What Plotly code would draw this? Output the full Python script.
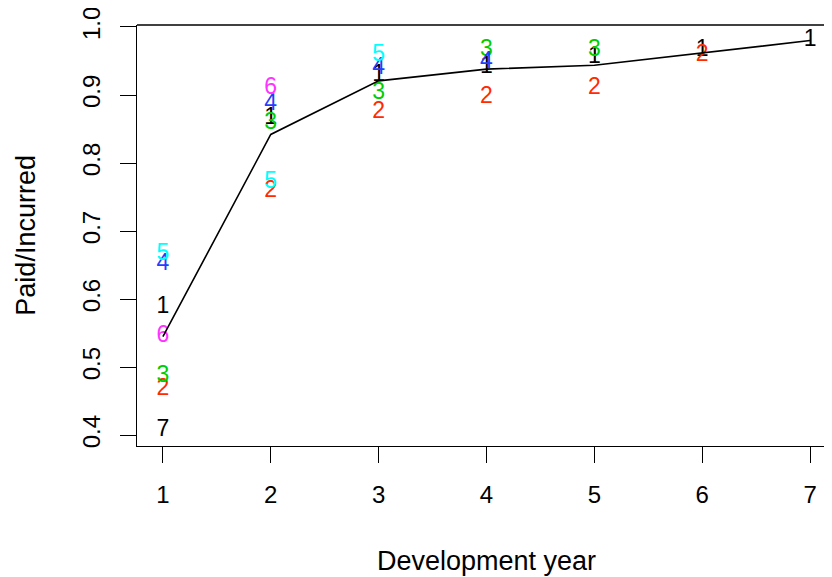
import numpy as np
import plotly.graph_objects as go

dev_years = [1, 2, 3, 4, 5, 6, 7]
origin_labels = ["1", "2", "3", "4", "5", "6", "7"]
colors = ["#000000", "#FF2A00", "#00CD00", "#1F3FFF", "#00FFFF", "#FF33FF", "#000000"]

N = None
ratios = [
    [0.588, 0.866, 0.929, 0.941, 0.955, 0.966, 0.980],  # origin 1
    [0.468, 0.758, 0.875, 0.897, 0.910, 0.958, N],      # origin 2
    [0.487, 0.859, 0.903, 0.966, 0.966, N, N],          # origin 3
    [0.651, 0.887, 0.939, 0.948, N, N, N],              # origin 4
    [0.666, 0.772, 0.958, N, N, N, N],                  # origin 5
    [0.546, 0.910, N, N, N, N, N],                      # origin 6
    [0.407, N, N, N, N, N, N],                          # origin 7
]

y_ticks = [0.4, 0.5, 0.6, 0.7, 0.8, 0.9, 1.0]
y_tick_text = ["0.4", "0.5", "0.6", "0.7", "0.8", "0.9", "1.0"]

font_family = "Liberation Sans, Arial, sans-serif"

fig = go.Figure()
for lab, col, row in zip(origin_labels, colors, ratios):
    xs = [x for x, v in zip(dev_years, row) if v is not None]
    ys = [v for v in row if v is not None]
    fig.add_trace(go.Scatter(
        x=xs, y=ys, mode="text", text=[lab] * len(xs),
        textposition="middle center",
        textfont=dict(color=col, size=23, family=font_family),
        showlegend=False, cliponaxis=False,
    ))

arr = np.array([[np.nan if v is None else v for v in row] for row in ratios], dtype=float)
mean_line = np.nanmean(arr, axis=0)
fig.add_trace(go.Scatter(
    x=dev_years, y=mean_line, mode="lines",
    line=dict(color="black", width=1.6),
    showlegend=False,
))

fig.update_layout(
    width=832, height=577,
    margin=dict(l=129, r=4, t=17, b=139, autoexpand=False),
    paper_bgcolor="white", plot_bgcolor="white",
    font=dict(family=font_family, color="black", size=24),
    xaxis=dict(
        range=[0.76, 7.24], tickvals=dev_years, ticktext=[str(d) for d in dev_years],
        showgrid=False, zeroline=False, automargin=False,
        showline=True, linecolor="black", linewidth=1.3,
        ticks="outside", ticklen=16, tickwidth=1.3, tickcolor="black",
        tickfont=dict(size=24), ticklabelstandoff=11,
    ),
    yaxis=dict(
        range=[0.3841, 1.0029], tickvals=y_ticks, ticktext=y_tick_text,
        showgrid=False, zeroline=False, automargin=False,
        showline=True, linecolor="black", linewidth=1.3,
        ticks="outside", ticklen=16, tickwidth=1.3, tickcolor="black",
        tickangle=-90, tickfont=dict(size=24), ticklabelstandoff=10,
        ticklabeloverflow="allow",
    ),
    shapes=[
        dict(type="line", xref="paper", yref="paper", x0=0, x1=1, y0=1, y1=1,
             line=dict(color="black", width=1.3)),
    ],
    annotations=[
        dict(text="Development year", x=0.5007, y=-0.273, xref="paper", yref="paper",
             xanchor="center", yanchor="middle", showarrow=False,
             font=dict(size=27, family=font_family, color="black")),
        dict(text="Paid/Incurred", x=-0.160, y=0.5, xref="paper", yref="paper",
             xanchor="center", yanchor="middle", textangle=-90, showarrow=False,
             font=dict(size=27, family=font_family, color="black")),
    ],
)

fig.write_html("out.html")
